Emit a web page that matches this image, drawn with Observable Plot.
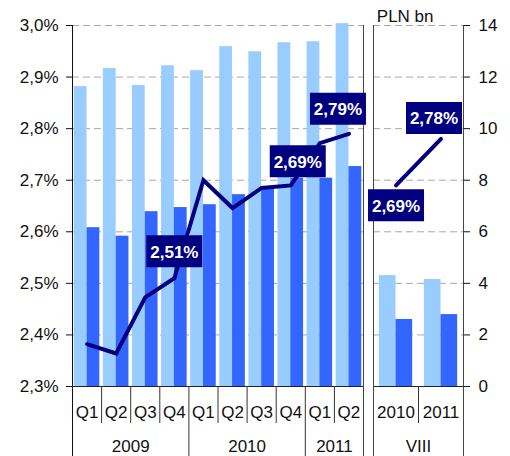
<!DOCTYPE html>
<html><head><meta charset="utf-8">
<script src="https://cdn.jsdelivr.net/npm/d3@7"></script>
<script src="https://cdn.jsdelivr.net/npm/@observablehq/plot@0.6"></script>
<style>body{margin:0;background:#fff;}</style>
</head><body><div id="chart"></div>
<script>
// ---- data ----
const quarters = ["Q1","Q2","Q3","Q4","Q1","Q2","Q3","Q4","Q1","Q2"];
const quarterYears = ["2009","2009","2009","2009","2010","2010","2010","2010","2011","2011"];
const quarterLight = [11.63,12.33,11.67,12.44,12.25,13.18,12.98,13.33,13.37,14.07]; // PLN bn
const quarterDark  = [6.16,5.83,6.78,6.94,7.05,7.44,7.65,8.08,8.08,8.53];         // PLN bn
const quarterRatio = [2.382,2.364,2.473,2.51,2.70,2.646,2.685,2.69,2.772,2.79];   // %
const augCats  = ["2010","2011"];
const augGroup = "VIII";
const augLight = [4.30,4.15];
const augDark  = [2.60,2.79];
const augRatio = [2.69,2.78];
const pctTicks = [2.3,2.4,2.5,2.6,2.7,2.8,2.9,3.0];
const bnTicks  = [0,2,4,6,8,10,12,14];
const unitLabel = "PLN bn";
const labeledQuarters = [3,7,9];
const labeledAug = [0,1];

// ---- layout / style ----
const LIGHT = "#99CCFF", DARK = "#3366FF", NAVY = "#000080";
const FONT = "'Liberation Sans', Arial, sans-serif";
const GAP = 0.344, AUGW = 1.546;
const MT = 25, MB = 70, ML = 72, MR = 47;
const nQ = quarters.length;
const augStart = nQ + GAP;
const xEnd = augStart + augCats.length * AUGW;
const y0 = pctTicks[0], y1 = pctTicks[pctTicks.length-1];
const b0 = bnTicks[0], b1 = bnTicks[bnTicks.length-1];
const bn = v => y0 + (v - b0) / (b1 - b0) * (y1 - y0);
const fmtPct = v => v.toFixed(2).replace(".", ",") + "%";

const qRows = quarters.map((q,i) => ({q, year: quarterYears[i], light: quarterLight[i], dark: quarterDark[i], ratio: quarterRatio[i], x0: i, xc: i + 0.5}));
const aRows = augCats.map((c,j) => ({q: c, light: augLight[j], dark: augDark[j], ratio: augRatio[j], x0: augStart + j*AUGW, xc: augStart + (j+0.5)*AUGW}));

// year groups
const years = [...new Set(quarterYears)];
const yearRows = years.map(y => {
  const idx = quarterYears.map((v,i)=>v===y?i:-1).filter(i=>i>=0);
  return {label: y, xc: (idx[0] + idx[idx.length-1] + 1)/2, start: idx[0]};
});
yearRows.push({label: augGroup, xc: (augStart + xEnd)/2});
const yearBounds = yearRows.filter(d => d.start > 0).map(d => d.start);
const quarterBounds = d3.range(1, nQ).filter(i => !yearBounds.includes(i)).concat(d3.range(1, augCats.length).map(j => augStart + j*AUGW));

const labelSpecs = [
  {row: qRows[labeledQuarters[0]], dx: 0, dy: -27},
  {row: qRows[labeledQuarters[1]], dx: 7, dy: -24},
  {row: qRows[labeledQuarters[2]], dx: -11, dy: -25},
  {row: aRows[labeledAug[0]], dx: 0, dy: 20},
  {row: aRows[labeledAug[1]], dx: -7, dy: -21}
];
const boxSymbol = {draw(ctx){ ctx.rect(-28, -16, 56, 32); }};

const gridStyle = {stroke: "#a8a8a8", strokeDasharray: "7,4", strokeWidth: 1};

const chart = Plot.plot({
  width: 510, height: 456,
  marginTop: MT, marginBottom: MB, marginLeft: ML, marginRight: MR,
  style: {fontFamily: FONT, fontSize: "17px", background: "white", color: "#111"},
  x: {type: "linear", domain: [0, xEnd], axis: null},
  y: {domain: [y0, y1], axis: null, label: null},
  marks: [
    Plot.ruleY(pctTicks.slice(1), {x1: 0, x2: nQ, ...gridStyle}),
    Plot.ruleY(pctTicks.slice(1), {x1: augStart, x2: xEnd, ...gridStyle}),
    // bars
    Plot.rect(qRows, {x1: d => d.x0 + 0.06, x2: d => d.x0 + 0.5, y1: y0, y2: d => bn(d.light), fill: LIGHT}),
    Plot.rect(qRows, {x1: d => d.x0 + 0.5, x2: d => d.x0 + 0.94, y1: y0, y2: d => bn(d.dark), fill: DARK}),
    Plot.rect(aRows, {x1: d => d.x0 + 0.13*AUGW, x2: d => d.x0 + 0.5*AUGW, y1: y0, y2: d => bn(d.light), fill: LIGHT}),
    Plot.rect(aRows, {x1: d => d.x0 + 0.5*AUGW, x2: d => d.x0 + 0.87*AUGW, y1: y0, y2: d => bn(d.dark), fill: DARK}),
    // baseline
    Plot.ruleY([y0], {x1: 0, x2: nQ, stroke: "#222"}),
    Plot.ruleY([y0], {x1: augStart, x2: xEnd, stroke: "#222"}),
    // frame verticals
    Plot.ruleX([0], {insetBottom: -MB, stroke: "#111"}),
    Plot.ruleX([nQ, augStart, xEnd], {insetBottom: -MB, stroke: "#444"}),
    Plot.ruleX(yearBounds, {y1: y0, y2: y0, insetBottom: -MB, stroke: "#333"}),
    Plot.ruleX(quarterBounds, {y1: y0, y2: y0, insetBottom: -37, stroke: "#333"}),
    // lines
    Plot.line(qRows, {x: "xc", y: "ratio", stroke: NAVY, strokeWidth: 4, strokeLinejoin: "miter", strokeMiterlimit: 4}),
    Plot.line(aRows, {x: "xc", y: "ratio", stroke: NAVY, strokeWidth: 4}),
    // value labels
    ...labelSpecs.flatMap(s => [
      Plot.dot([s.row], {x: "xc", y: "ratio", symbol: boxSymbol, fill: NAVY, dx: s.dx, dy: s.dy}),
      Plot.text([s.row], {x: "xc", y: "ratio", text: d => fmtPct(d.ratio), fill: "white", fontWeight: "bold", fontSize: 17, dx: s.dx, dy: s.dy + 1, lineAnchor: "middle"})
    ]),
    // category labels
    Plot.text(qRows.concat(aRows), {x: "xc", y: y0, text: "q", dy: 26, fontSize: 17, lineAnchor: "middle", fill: "#111"}),
    Plot.text(yearRows, {x: "xc", y: y0, text: "label", dy: 60, fontSize: 17, lineAnchor: "middle", fill: "#111"}),
    Plot.text([unitLabel], {frameAnchor: "top-right", textAnchor: "end", dx: -30, dy: -9, fontSize: 17, lineAnchor: "middle", fill: "#111"}),
    // axes
    Plot.axisY({anchor: "left", ticks: pctTicks, tickFormat: d => d.toFixed(1).replace(".", ",") + "%", tickSize: 6, tickPadding: 8, fontSize: 17, label: null, stroke: "#111"}),
    Plot.axisY({anchor: "right", ticks: bnTicks.map(bn), tickFormat: d => String(Math.round((d - y0) / (y1 - y0) * (b1 - b0) + b0)), tickSize: 6, tickPadding: 9, fontSize: 17, label: null, stroke: "#111"})
  ]
});
document.getElementById("chart").appendChild(chart);
</script>
</body></html>
